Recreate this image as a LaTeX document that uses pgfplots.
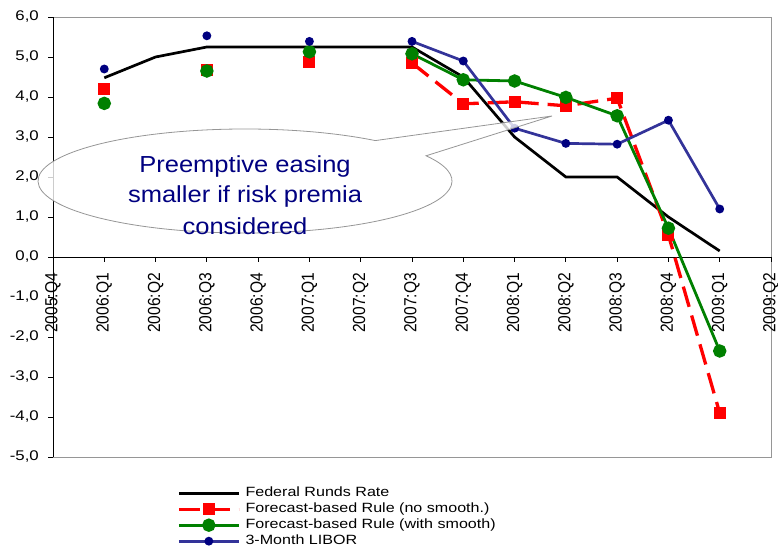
\documentclass[border=0pt]{standalone}
\usepackage{pgfplots}
\pgfplotsset{compat=1.18}
\usepackage{fontspec}
\setmainfont{Liberation Sans}[FakeStretch=1.2]
\newfontfamily\xtfont{Liberation Sans}[FakeStretch=0.89]
\newfontfamily\calloutfont{Liberation Sans}[FakeStretch=1.1]

\definecolor{fedblack}{RGB}{0,0,0}
\definecolor{rulered}{RGB}{255,0,0}
\definecolor{rulegreen}{RGB}{0,128,0}
\definecolor{liborline}{RGB}{51,51,153}
\definecolor{libormark}{RGB}{0,0,128}
\definecolor{callouttext}{RGB}{0,0,128}
\definecolor{boxgray}{RGB}{150,150,150}

\begin{document}
\begin{tikzpicture}
\begin{axis}[
  at={(53pt,91pt)}, anchor=south west,
  scale only axis, width=718pt, height=440pt,
  xmin=0, xmax=14, ymin=-5, ymax=6,
  axis x line=middle, axis y line=left,
  axis line style={-, black, line width=0.8pt},
  hide obscured x ticks=false, hide obscured y ticks=false,
  xtick={0,...,14},
  xticklabels={2005:Q4,2006:Q1,2006:Q2,2006:Q3,2006:Q4,2007:Q1,2007:Q2,2007:Q3,2007:Q4,2008:Q1,2008:Q2,2008:Q3,2008:Q4,2009:Q1,2009:Q2},
  ytick={-5,...,6},
  tick align=outside, major tick length=5pt,
  tick style={black, line width=0.8pt},
  x tick label style={yshift=-11pt, rotate=90, anchor=east, inner sep=0pt,
    font=\xtfont\fontsize{17.5}{18}\selectfont},
  y tick label style={inner sep=0pt, xshift=-9pt,
    font=\fontsize{14}{16}\selectfont,
    /pgf/number format/.cd, fixed, fixed zerofill, precision=1, use comma,
    assume math mode=true},
  clip=false, set layers,
  unbounded coords=jump,
  legend cell align=left,
  legend image code/.code={%
    \draw[mark repeat=2,mark phase=2,#1] plot coordinates {(0pt,0pt) (30pt,0pt) (60pt,0pt)};},
  legend style={at={(axis description cs:0.1727,-0.0636)}, anchor=north west,
    draw=none, fill=none, inner sep=0pt, row sep=0pt,
    font=\fontsize{13.4}{16}\selectfont,
    nodes={inner ysep=0pt, inner xsep=2pt, text height=11pt, text depth=5pt},
    /tikz/every odd column/.append style={column sep=3pt}},
]
% frame around the plotting area
\begin{pgfonlayer}{axis background}
  \draw[boxgray, line width=0.8pt] (rel axis cs:0,0) rectangle (rel axis cs:1,1);
\end{pgfonlayer}

% Federal funds rate
\addplot[fedblack, line width=2.7pt] coordinates {
  (1,4.48) (2,5.00) (3,5.25) (4,5.25) (5,5.25) (6,5.25) (7,5.25)
  (8,4.50) (9,3.00) (10,2.00) (11,2.00) (12,1.00) (13,0.15)};
\addlegendentry{Federal Runds Rate}

% Forecast-based rule without smoothing
\addplot[rulered, line width=3.3pt, dash pattern=on 21pt off 9pt,
  mark=square*, mark size=4.3pt, mark options={solid}] coordinates {
  (1,4.19) (2,nan) (3,4.68) (4,nan) (5,4.87) (6,nan)
  (7,4.85) (8,3.83) (9,3.88) (10,3.78) (11,3.97) (12,0.55) (13,-3.90)};
\addlegendentry{Forecast-based Rule (no smooth.)}

% Forecast-based rule with smoothing
\addplot[rulegreen, line width=2.8pt, mark=*, mark size=5.3pt] coordinates {
  (1,3.84) (2,nan) (3,4.65) (4,nan) (5,5.13) (6,nan)
  (7,5.08) (8,4.43) (9,4.40) (10,3.99) (11,3.53) (12,0.72) (13,-2.35)};
\addlegendentry{Forecast-based Rule (with smooth)}

% 3-month LIBOR
\addplot[liborline, line width=2.7pt, mark=*, mark size=3pt,
  mark options={fill=libormark, draw=libormark}] coordinates {
  (1,4.70) (2,nan) (3,5.53) (4,nan) (5,5.39) (6,nan)
  (7,5.39) (8,4.90) (9,3.22) (10,2.84) (11,2.82) (12,3.42) (13,1.20)};
\addlegendentry{3-Month LIBOR}

% speech-bubble annotation
\begin{pgfonlayer}{axis foreground}
  \fill[white, fill opacity=0.8]
    (axis cs:3.744,1.9) ++(51:207pt and 52pt)
    arc[start angle=51, end angle=389, x radius=207pt, y radius=52pt]
    -- (axis cs:9.73,3.525) -- cycle;
  \draw[boxgray, line width=0.8pt]
    (axis cs:3.744,1.9) ++(51:207pt and 52pt)
    arc[start angle=51, end angle=389, x radius=207pt, y radius=52pt]
    -- (axis cs:9.73,3.525) -- cycle;
  \begin{scope}[every node/.style={text=callouttext, anchor=base, inner sep=0pt,
      font=\calloutfont\fontsize{23.2}{31}\selectfont}]
    \node at (axis cs:3.744,2.10) {Preemptive easing};
    \node at (axis cs:3.744,1.35) {smaller if risk premia};
    \node at (axis cs:3.744,0.55) {considered};
  \end{scope}
\end{pgfonlayer}
\end{axis}
\pgfresetboundingbox
\path[use as bounding box] (0,0) rectangle (778pt,548pt);
\end{tikzpicture}
\end{document}
